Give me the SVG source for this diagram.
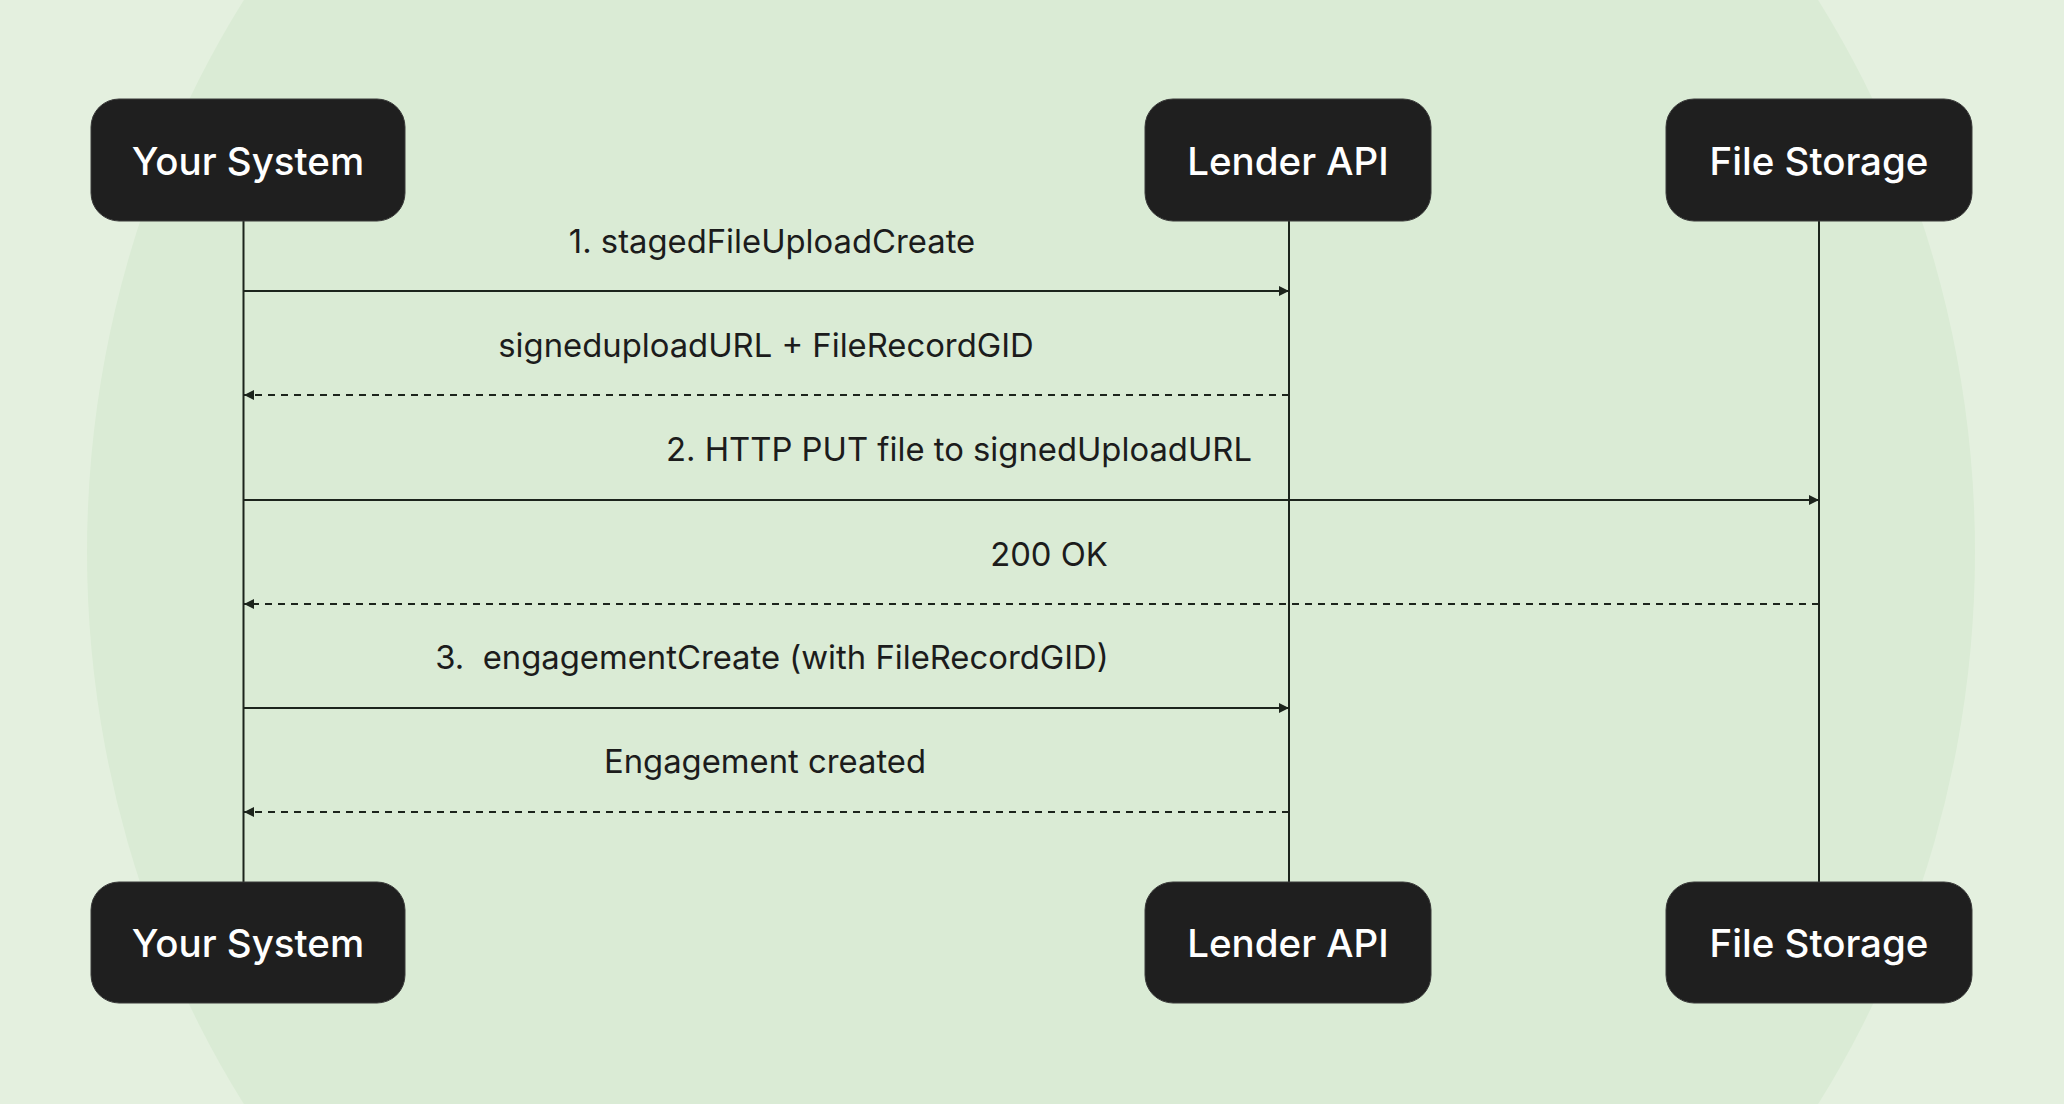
<svg xmlns="http://www.w3.org/2000/svg" width="2064" height="1104" viewBox="0 0 2064 1104">
<style>
.node rect{fill:#1f1f1f;stroke:#3a3a3a;stroke-width:1}
.node text{fill:#ffffff;font-family:Inter,"Liberation Sans",sans-serif;font-size:38.5px;font-weight:500;text-anchor:middle;dominant-baseline:central}
.life{stroke:#1c241c;stroke-width:2}
.msg{stroke:#1c241c;stroke-width:2;fill:none}
.ret{stroke-dasharray:7 6}
.lbl{fill:#1c1c1c;font-family:Inter,"Liberation Sans",sans-serif;font-size:32.8px;text-anchor:middle;dominant-baseline:central}
</style>
<defs>
<marker id="ah" viewBox="0 0 10 10" refX="10" refY="5" markerWidth="10" markerHeight="10" markerUnits="userSpaceOnUse" orient="auto-start-reverse">
<path d="M0,0 L10,5 L0,10 z" fill="#1c241c"/>
</marker>
</defs>
<rect width="2064" height="1104" fill="#e4f0df"/>
<ellipse cx="1031" cy="552" rx="944" ry="1000" fill="#daebd5"/>
<g id="lifelines">
<line class="life" x1="243.5" y1="221" x2="243.5" y2="882"/>
<line class="life" x1="1289" y1="221" x2="1289" y2="882"/>
<line class="life" x1="1819" y1="221" x2="1819" y2="882"/>
</g>
<g id="connectors">
<line class="msg" x1="244" y1="291" x2="1289" y2="291" marker-end="url(#ah)"/>
<text class="lbl" x="772" y="241">1. stagedFileUploadCreate</text>
<line class="msg ret" x1="1289" y1="395" x2="244" y2="395" marker-end="url(#ah)"/>
<text class="lbl" x="766" y="345">signeduploadURL + FileRecordGID</text>
<line class="msg" x1="244" y1="500" x2="1819" y2="500" marker-end="url(#ah)"/>
<text class="lbl" x="959" y="449">2. HTTP PUT file to signedUploadURL</text>
<line class="msg ret" x1="1819" y1="604" x2="244" y2="604" marker-end="url(#ah)"/>
<text class="lbl" x="1049" y="554">200 OK</text>
<line class="msg" x1="244" y1="708" x2="1289" y2="708" marker-end="url(#ah)"/>
<text class="lbl" x="772" y="657" xml:space="preserve">3.  engagementCreate (with FileRecordGID)</text>
<line class="msg ret" x1="1289" y1="812" x2="244" y2="812" marker-end="url(#ah)"/>
<text class="lbl" x="765" y="761">Engagement created</text>
</g>
<g id="your-system-top" class="node"><rect x="91" y="99" width="314" height="122" rx="28"/><text x="248" y="161">Your System</text></g>
<g id="lender-api-top" class="node"><rect x="1145" y="99" width="286" height="122" rx="28"/><text x="1288" y="161">Lender API</text></g>
<g id="file-storage-top" class="node"><rect x="1666" y="99" width="306" height="122" rx="28"/><text x="1819" y="161">File Storage</text></g>
<g id="your-system-bottom" class="node"><rect x="91" y="882" width="314" height="121" rx="28"/><text x="248" y="943">Your System</text></g>
<g id="lender-api-bottom" class="node"><rect x="1145" y="882" width="286" height="121" rx="28"/><text x="1288" y="943">Lender API</text></g>
<g id="file-storage-bottom" class="node"><rect x="1666" y="882" width="306" height="121" rx="28"/><text x="1819" y="943">File Storage</text></g>
</svg>
